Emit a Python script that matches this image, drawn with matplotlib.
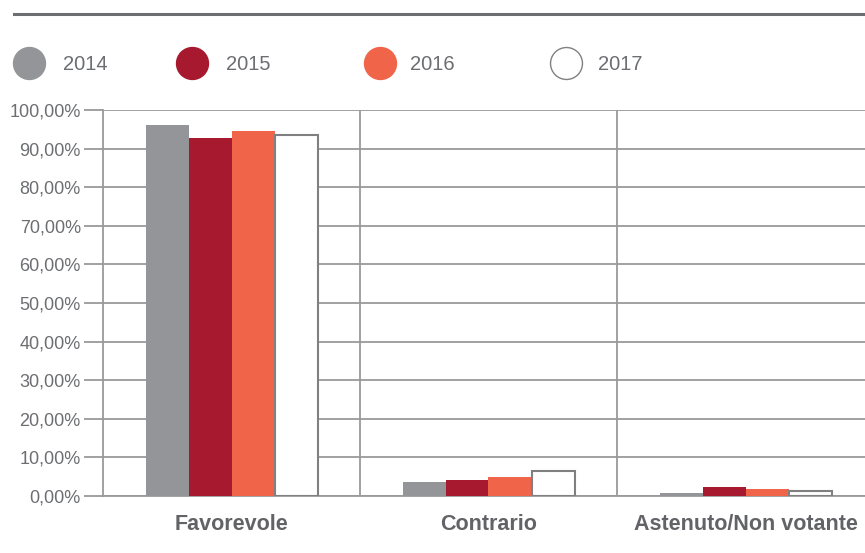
import numpy as np
import matplotlib.pyplot as plt
from matplotlib.lines import Line2D

categories = ["Favorevole", "Contrario", "Astenuto/Non votante"]
years = ["2014", "2015", "2016", "2017"]
v2014 = [96.1, 3.6, 0.8]
v2015 = [92.7, 4.1, 2.3]
v2016 = [94.6, 4.9, 1.8]
v2017 = [93.5, 6.4, 1.3]
yticks = [0, 10, 20, 30, 40, 50, 60, 70, 80, 90, 100]
ytick_labels = ["0,00%", "10,00%", "20,00%", "30,00%", "40,00%", "50,00%",
                "60,00%", "70,00%", "80,00%", "90,00%", "100,00%"]

plt.rcParams['font.family'] = ['Liberation Sans', 'DejaVu Sans']

grid_c = "#9a9a9a"
text_c = "#6d6e71"
colors = ["#939598", "#a6192e", "#f0644a", "white"]
edges = ["none", "none", "none", "#808080"]

fig = plt.figure(figsize=(8.65, 5.53), dpi=100)
ax = fig.add_axes([103 / 865, 1 - 496 / 553, 771 / 865, 386 / 553])

x = np.arange(len(categories))
w = 43 / 257
series = [v2014, v2015, v2016, v2017]
for i, vals in enumerate(series):
    ax.bar(x + (i - 1.5) * w, vals, width=w, color=colors[i],
           edgecolor=edges[i], linewidth=1.5 if i == 3 else 0, zorder=3)

ax.set_xlim(-0.5, 2.5)
ax.set_ylim(0, 100)
ax.set_yticks(yticks)
ax.set_yticklabels(ytick_labels, fontsize=13, color=text_c)
ax.yaxis.grid(True, color=grid_c, linewidth=1.3, zorder=0)
ax.tick_params(axis="y", length=14, width=1.3, color=grid_c, pad=2)
for xv in [0.5, 1.5]:
    ax.axvline(xv, color=grid_c, linewidth=1.3, zorder=0)

ax.set_xticks(x)
ax.set_xticklabels(categories, fontsize=15.5, fontweight="bold", color="#626366")
ax.tick_params(axis="x", length=0, pad=13)

for s in ["top", "right"]:
    ax.spines[s].set_visible(False)
for s in ["left", "bottom"]:
    ax.spines[s].set_color(grid_c)
    ax.spines[s].set_linewidth(1.3)

# top rule
fig.add_artist(Line2D([14 / 865, 1], [1 - 14 / 553] * 2, color="#6d6e71",
                      linewidth=2.2, transform=fig.transFigure))

# legend
leg_y = 1 - 63 / 553
circle_x = [29, 192, 380, 566]
text_x = [63, 226, 410, 598]
for i, yr in enumerate(years):
    fig.add_artist(Line2D([circle_x[i] / 865], [leg_y], marker="o", markersize=23,
                          markerfacecolor=colors[i],
                          markeredgecolor="#808080" if i == 3 else colors[i],
                          markeredgewidth=1.0, linestyle="none",
                          transform=fig.transFigure))
    fig.text(text_x[i] / 865, leg_y - 2 / 553, yr, fontsize=14.5, color=text_c,
             va="center", ha="left")

fig.savefig("out.png", dpi=100)
